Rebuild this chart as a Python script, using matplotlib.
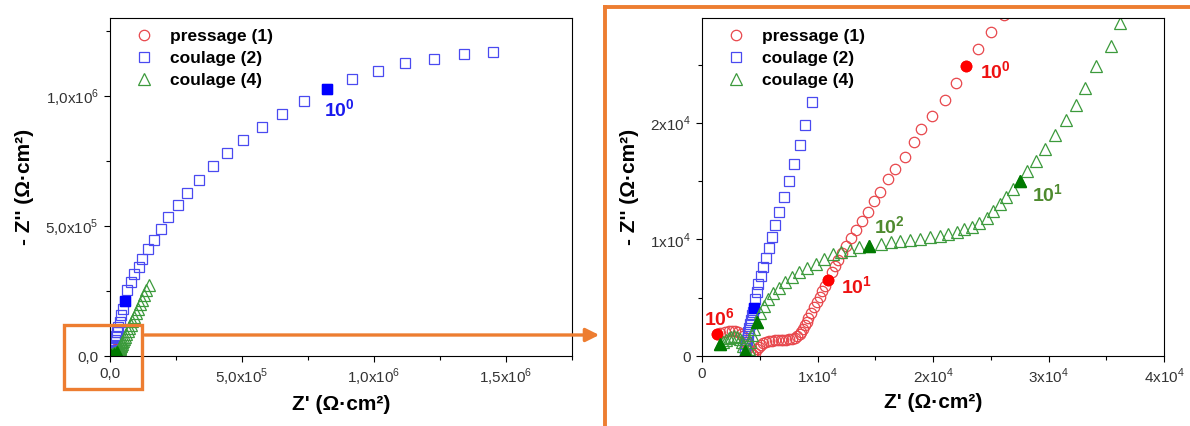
import numpy as np
import matplotlib
matplotlib.use('Agg')
import matplotlib.pyplot as plt
from matplotlib.patches import Rectangle
from matplotlib.ticker import FuncFormatter, MultipleLocator

plt.rcParams['font.family'] = ['Liberation Sans', 'DejaVu Sans']
plt.rcParams['mathtext.fontset'] = 'custom'
plt.rcParams['mathtext.rm'] = 'Liberation Sans'
plt.rcParams['mathtext.bf'] = 'Liberation Sans:bold'

# pressage (1) : Z' / -Z'' (ohm.cm2)
red_x = [1270, 1600, 1990, 2300, 2570, 2850, 3140, 3380, 3560, 3720, 3870, 4020, 4180, 4330, 4450,
         4600, 4750, 4900, 5100, 5300, 5550, 5800, 6050, 6300, 6550, 6800, 7050, 7300, 7550, 7800,
         8050, 8250, 8450, 8600, 8750, 8900, 9050, 9200, 9430, 9690, 9950, 10180, 10410, 10670,
         10890, 11250, 11510, 11800, 12130, 12490, 12940, 13370, 13850, 14370, 14890, 15450, 16130,
         16720, 17590, 18340, 18960, 19900, 21010, 21980, 22860, 23870, 24980, 26180]
red_y = [1870, 1980, 2080, 2130, 2150, 2120, 2050, 1900, 1700, 1400, 1050, 700, 400, 180, 60,
         300, 560, 780, 960, 1100, 1200, 1270, 1310, 1340, 1350, 1360, 1370, 1400, 1440, 1500,
         1580, 1700, 1880, 2100, 2350, 2620, 2920, 3250, 3700, 4190, 4670, 5100, 5560, 6040,
         6520, 7240, 7750, 8260, 8830, 9460, 10090, 10800, 11540, 12360, 13300, 14070, 15160,
         16010, 17090, 18380, 19490, 20570, 21940, 23420, 24900, 26350, 27780, 29260]
red_fx = [1270, 10890, 22860]
red_fy = [1870, 6520, 24900]

# coulage (2)
blue_x = [3700, 3760, 3820, 3880, 3940, 4000, 4080, 4160, 4250, 4330, 4420, 4520, 4620, 4750,
          4880, 5070, 5270, 5500, 5760, 6020, 6310, 6700, 7060, 7510, 7970, 8460, 8940, 9530,
          12000, 13300, 15000, 17200, 19800, 23000, 27000, 31500, 37000, 43000,
          49000, 56000, 66000, 79000, 92000, 108000, 123000, 145000, 168000, 194000, 220000,
          256000, 293000, 338000, 390000, 444000, 504000, 575000, 652000, 735000, 823000,
          915000, 1015000, 1119000, 1228000, 1340000, 1451000]
blue_y = [300, 650, 1000, 1350, 1700, 2050, 2400, 2760, 3100, 3480, 3800, 4080, 4900, 5530,
          6180, 6890, 7610, 8430, 9260, 10200, 11250, 12390, 13650, 14990, 16470, 18090, 19830, 21770,
          31000, 36000, 43000, 52000, 63000, 76000, 92000, 111000, 132000, 156000,
          182000, 210000, 252000, 284000, 314000, 342000, 375000, 411000, 448000, 488000, 533000,
          580000, 626000, 675000, 729000, 780000, 832000, 880000, 932000, 982000, 1026000,
          1066000, 1096000, 1125000, 1143000, 1161000, 1170000]
blue_fx = [4520, 56000, 823000]
blue_fy = [4080, 210000, 1026000]

# coulage (4)
green_x = [1560, 1800, 2050, 2300, 2550, 2800, 3050, 3250, 3430, 3580, 3720, 3880, 4030, 4160,
           4330, 4490, 4745, 4980, 5330, 5720, 6150, 6630, 7150, 7770, 8390, 9110, 9850, 10570,
           11320, 12070, 12780, 13590, 14440, 15540, 16360, 17170, 17980, 18860, 19770, 20580,
           21330, 22050, 22700, 23350, 24000, 24650, 25170, 25760, 26340, 26930, 27510, 28160,
           28880, 29660, 30570, 31480, 32360, 33200, 34080, 35380, 36200, 37300, 38500, 40000,
           41800, 44000, 46500, 49500, 53000, 57000, 61500, 66500, 72000, 78000, 84500, 91000,
           98000, 105000, 112500, 120000, 128000, 136500, 146000]
green_y = [1010, 1200, 1400, 1550, 1650, 1680, 1620, 1480, 1200, 850, 430, 350, 630, 1200,
           1770, 2340, 2900, 3700, 4330, 4900, 5410, 5870, 6320, 6810, 7180, 7580, 7890, 8320,
           8720, 8890, 9120, 9320, 9460, 9630, 9740, 9830, 9970, 10030, 10170, 10310,
           10460, 10680, 10880, 11080, 11450, 11880, 12420, 13020, 13680, 14300, 15010, 15900,
           16720, 17750, 18950, 20230, 21540, 22990, 24900, 26610, 28600, 31000, 34000, 37500,
           41500, 46500, 52000, 58500, 66000, 75000, 85000, 96000, 108000, 121000, 135000, 150000,
           166000, 182000, 199000, 217000, 236000, 255000, 275000]
green_fx = [1560, 3720, 4745, 14440, 27510]
green_fy = [1010, 430, 2900, 9460, 15010]

labels = ['pressage (1)', 'coulage (2)', 'coulage (4)']
c_red, c_blue, c_green = '#e8474c', '#4a4af0', '#3c9a3c'
f_red, f_blue, f_green = '#ff0000', '#0000ff', '#007a00'
orange = '#ed7d31'


def fmt_left(v, pos):
    if v == 0:
        return '0,0'
    e = int(np.floor(np.log10(abs(v)) + 1e-9))
    m = ('%.1f' % (v / 10 ** e)).replace('.', '{,}')
    return r'$%s\mathrm{x}10^{%d}$' % (m, e)


def fmt_right(v, pos):
    if v == 0:
        return '0'
    e = int(np.floor(np.log10(abs(v)) + 1e-9))
    return r'$%d\mathrm{x}10^{%d}$' % (round(v / 10 ** e), e)


def draw(ax):
    h1, = ax.plot(red_x, red_y, ls='none', marker='o', ms=7.5, mfc='none', mec=c_red, mew=0.9)
    ax.plot(red_fx, red_fy, ls='none', marker='o', ms=7.5, color=f_red)
    h2, = ax.plot(blue_x, blue_y, ls='none', marker='s', ms=7, mfc='none', mec=c_blue, mew=0.9)
    ax.plot(blue_fx, blue_fy, ls='none', marker='s', ms=7, color=f_blue)
    h3, = ax.plot(green_x, green_y, ls='none', marker='^', ms=8.5, mfc='none', mec=c_green, mew=0.9)
    ax.plot(green_fx, green_fy, ls='none', marker='^', ms=8.5, color=f_green)
    ax.legend([h1, h2, h3], labels, loc='upper left', bbox_to_anchor=(0.02, 1.015), frameon=False,
              handlelength=1.0, handletextpad=1.0, labelspacing=0.4,
              prop={'weight': 'bold', 'size': 12.5})
    ax.tick_params(which='both', direction='out', top=False, right=False,
                   labelsize=11, labelcolor='#333333')
    ax.tick_params(which='major', length=4.5, width=0.8)
    ax.tick_params(which='minor', length=3, width=0.8)
    for s in ax.spines.values():
        s.set_linewidth(0.8)
    ax.set_xlabel("Z' (\u03a9\u00b7cm\u00b2)", fontsize=15, fontweight='bold', labelpad=5)
    ax.set_ylabel("- Z'' (\u03a9\u00b7cm\u00b2)", fontsize=15, fontweight='bold', labelpad=8)


fig = plt.figure(figsize=(11.9, 4.26), dpi=100)

ax1 = fig.add_axes([110 / 1190, 1 - 356 / 426, 462 / 1190, 338 / 426])
draw(ax1)
ax1.set_xlim(0, 1.75e6)
ax1.set_ylim(0, 1.3e6)
ax1.xaxis.set_major_locator(MultipleLocator(5e5))
ax1.xaxis.set_minor_locator(MultipleLocator(2.5e5))
ax1.yaxis.set_major_locator(MultipleLocator(5e5))
ax1.yaxis.set_minor_locator(MultipleLocator(2.5e5))
ax1.xaxis.set_major_formatter(FuncFormatter(fmt_left))
ax1.yaxis.set_major_formatter(FuncFormatter(fmt_left))
ax1.annotate(r'$\mathbf{10^{0}}$', (blue_fx[2], blue_fy[2]), xytext=(12, -20),
             textcoords='offset pixels', color='#1a1aee', fontsize=14, ha='center', va='center')

ax2 = fig.add_axes([702 / 1190, 1 - 356 / 426, 462 / 1190, 338 / 426])
draw(ax2)
ax2.set_xlim(0, 4e4)
ax2.set_ylim(0, 2.9e4)
ax2.xaxis.set_major_locator(MultipleLocator(1e4))
ax2.xaxis.set_minor_locator(MultipleLocator(5e3))
ax2.yaxis.set_major_locator(MultipleLocator(1e4))
ax2.yaxis.set_minor_locator(MultipleLocator(5e3))
ax2.xaxis.set_major_formatter(FuncFormatter(fmt_right))
ax2.yaxis.set_major_formatter(FuncFormatter(fmt_right))

notes = [(r'$\mathbf{10^{6}}$', red_fx[0], red_fy[0], (3, 16), '#ee1111'),
         (r'$\mathbf{10^{1}}$', red_fx[1], red_fy[1], (29, -6), '#ee1111'),
         (r'$\mathbf{10^{0}}$', red_fx[2], red_fy[2], (29, -5), '#ee1111'),
         (r'$\mathbf{10^{2}}$', green_fx[3], green_fy[3], (21, 20), '#4e8a2e'),
         (r'$\mathbf{10^{1}}$', green_fx[4], green_fy[4], (28, -13), '#4e8a2e')]
for t, x, y, off, col in notes:
    ax2.annotate(t, (x, y), xytext=off, textcoords='offset pixels', color=col,
                 fontsize=14, ha='center', va='center')

# orange zoom frame and arrow, in pixel coordinates
ov = fig.add_axes([0, 0, 1, 1], facecolor='none')
ov.set_xlim(0, 1190)
ov.set_ylim(426, 0)
ov.axis('off')
ov.add_patch(Rectangle((64, 325), 78, 64, fill=False, ec=orange, lw=2.4))
ov.annotate('', xy=(602, 335), xytext=(142, 335),
            arrowprops=dict(arrowstyle='-|>', color=orange, lw=2.4, mutation_scale=20))
ov.plot([605, 605], [426, 7], color=orange, lw=2.8, solid_capstyle='projecting')
ov.plot([605, 1190], [7, 7], color=orange, lw=2.8, solid_capstyle='projecting')

fig.savefig('out.png', dpi=100)
